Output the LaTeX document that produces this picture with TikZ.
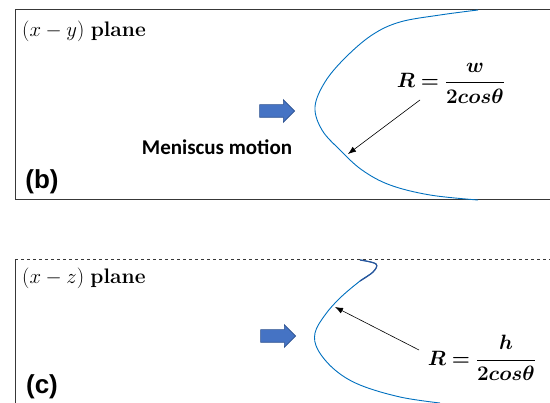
\documentclass[tikz,border=0pt]{standalone}
\usepackage{fontspec}
\usepackage{amsmath}
\usepackage{bm}
\usetikzlibrary{arrows.meta,shapes.arrows}
\newfontfamily\calibfont{Carlito}
\newfontfamily\arialfont{Liberation Sans}
\definecolor{CurveClr}{rgb}{0,0.44,0.75}
\definecolor{HookClr}{rgb}{0.17,0.33,0.6}
\definecolor{BlockClr}{rgb}{0.27,0.45,0.77}
\definecolor{BlockEdge}{rgb}{0.18,0.32,0.56}
\definecolor{FrameClr}{gray}{0.22}

\begin{document}
\begin{tikzpicture}[x=1pt,y=-1pt,
  frame/.style={FrameClr,line width=1pt},
  meniscus/.style={CurveClr,line width=0.9pt},
  motion/.style={single arrow,draw=BlockEdge,fill=BlockClr,line width=0.6pt,
    minimum height=35pt,inner xsep=0pt,inner ysep=6pt,single arrow head extend=5pt},
  pointer/.style={-{Latex[length=8pt,width=6pt]},line width=0.6pt},
  panel/.style={anchor=west,inner sep=0pt,font=\fontsize{21}{25}\selectfont},
  tag/.style={inner sep=0pt,font=\arialfont\bfseries\fontsize{26}{30}\selectfont},
  radius/.style={inner sep=0pt,font=\fontsize{20}{24}\selectfont}]

\useasboundingbox (0,0) rectangle (550,403);

% (b) x-y plane
\draw[frame] (550,10) -- (15,10) -- (15,200) -- (550,200);
\draw[meniscus] plot[smooth,tension=0.6] coordinates {(478,10) (440,15) (400,22)
  (372,35) (345,58) (325,82) (315,107) (322,130) (340,150) (362,170) (390,185)
  (430,195) (478,200)};

\node[panel] (planeB) at (22,31) {$(x-y)$ \textbf{plane}};
\node[tag] (labelB) at (42,182) {(b)};
\node[motion] (arrowB) at (274,111) {};
\node[inner sep=0pt,font=\calibfont\bfseries\fontsize{21}{24}\selectfont]
  (motionB) at (217,147) {Meniscus motion};
\node[radius] (radiusB) at (451,83) {$\displaystyle\bm{R=\frac{w}{2cos\theta}}$};

\coordinate (tailB) at (420,100);
\coordinate (contactB) at (348,154);
\draw[pointer] (tailB) -- (contactB);

% (c) x-z plane
\draw[frame,dashed] (15,260) -- (550,260);
\draw[frame] (15,260) -- (15,403);
\draw[meniscus] plot[smooth,tension=0.6] coordinates {(360,260) (376,264) (373,272)
  (360,281) (340,298) (325,315) (315,333) (318,350) (335,370) (360,385)
  (400,397) (440,403)};
\draw[HookClr,line width=1.2pt] plot[smooth,tension=0.6] coordinates {(360,260)
  (376,264) (373,272) (360,281)};

\node[panel] (planeC) at (22,278) {$(x-z)$ \textbf{plane}};
\node[tag] (labelC) at (42,387) {(c)};
\node[motion] (arrowC) at (275,336) {};
\node[radius] (radiusC) at (482,358) {$\displaystyle\bm{R=\frac{h}{2cos\theta}}$};

\coordinate (tailC) at (419,350);
\coordinate (contactC) at (335,307);
\draw[pointer] (tailC) -- (contactC);
\end{tikzpicture}
\end{document}
